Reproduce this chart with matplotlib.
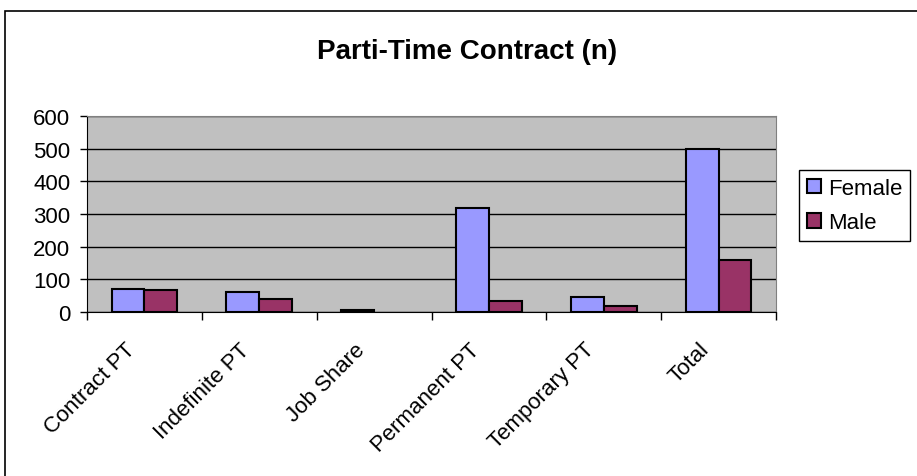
import matplotlib
matplotlib.use("Agg")
from matplotlib import pyplot as plt
from matplotlib.patches import Rectangle
from matplotlib.transforms import ScaledTranslation
import numpy as np

plt.rcParams['font.family'] = ['Liberation Sans', 'DejaVu Sans']

# data
categories = ["Contract PT", "Indefinite PT", "Job Share", "Permanent PT", "Temporary PT", "Total"]
female = [71, 61, 5, 317, 46, 500]
male = [67, 41, 0, 33, 18, 160]

W, H = 917, 477
fig = plt.figure(figsize=(W / 100, H / 100), dpi=100)

# outer chart frame (cut off on right and bottom)
fig.patches.append(Rectangle((5 / W, -0.1), 1.1, 1 - 12 / H + 0.1, transform=fig.transFigure,
                             fill=False, edgecolor="black", linewidth=1.2))

ax = fig.add_axes([87 / W, 1 - 313 / H, (776 - 87) / W, (313 - 117) / H])
ax.set_facecolor("#C0C0C0")

x = np.arange(len(categories))
bw = 0.286
# no outline for empty bars
lw_f = [1.5 if v > 0 else 0 for v in female]
lw_m = [1.5 if v > 0 else 0 for v in male]
ax.bar(x - bw / 2, female, bw, color="#9999FF", edgecolor="black", linewidth=lw_f, label="Female", zorder=3)
ax.bar(x + bw / 2, male, bw, color="#993366", edgecolor="black", linewidth=lw_m, label="Male", zorder=3)

ax.set_xlim(-0.5, len(categories) - 0.5)
ax.set_ylim(0, 600)
ax.set_yticks(range(0, 601, 100))
ax.yaxis.grid(True, color="black", linewidth=1)
ax.set_axisbelow(True)
ax.tick_params(axis="y", labelsize=16, length=5, width=1, direction="out", pad=7)

ax.set_xticks(x)
ax.set_xticklabels(categories, rotation=45, ha="right", va="top", rotation_mode="anchor", fontsize=16)
ax.tick_params(axis="x", which="major", length=0, pad=15)
ax.set_xticks(np.arange(-0.5, len(categories), 1), minor=True)
ax.tick_params(axis="x", which="minor", length=6, width=1, direction="out")

# nudge the rotated labels left/down like the original
shift = ScaledTranslation(-0.20, -0.06, fig.dpi_scale_trans)
for lbl in ax.get_xticklabels():
    lbl.set_transform(lbl.get_transform() + shift)

for side in ["top", "right"]:
    ax.spines[side].set_color("#808080")
ax.spines["left"].set_color("black")
ax.spines["bottom"].set_color("black")

fig.text(467 / W, 1 - 52 / H, "Parti-Time Contract (n)", ha="center", va="center",
         fontsize=20, fontweight="bold")

fig.legend(loc="upper left", bbox_to_anchor=(799 / W, 1 - 171 / H), fontsize=16,
           frameon=True, fancybox=False, edgecolor="black", framealpha=1,
           handlelength=0.65, handleheight=0.65, handletextpad=0.3, borderpad=0.35,
           labelspacing=0.6, borderaxespad=0)

fig.savefig("out.png", dpi=100)
